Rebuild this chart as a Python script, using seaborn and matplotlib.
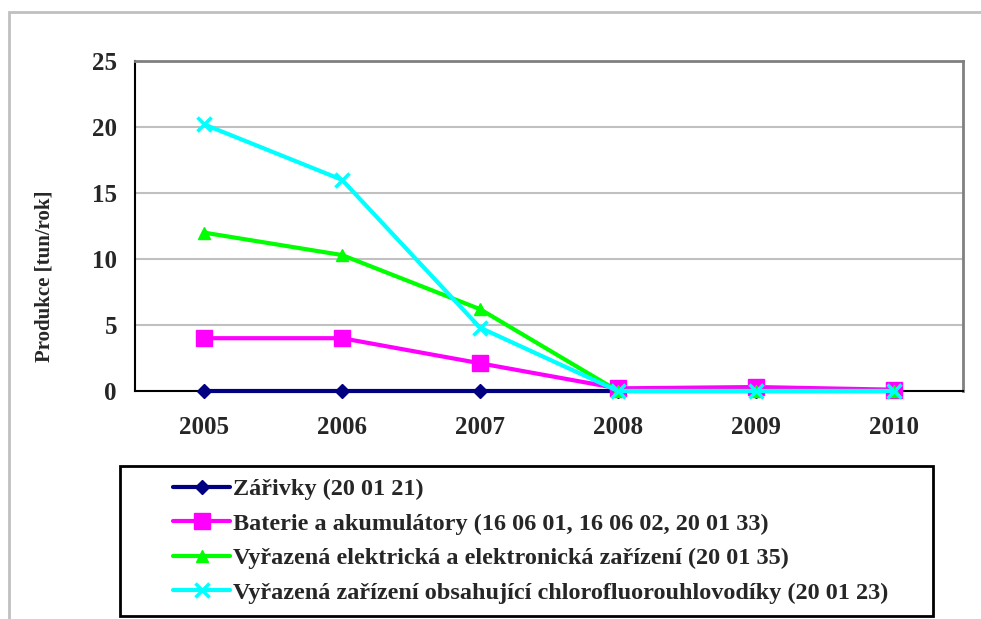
import pandas as pd
import matplotlib
matplotlib.use("Agg")
import matplotlib.pyplot as plt
import seaborn as sns
from matplotlib.patches import Rectangle

# Data
years = ["2005", "2006", "2007", "2008", "2009", "2010"]
zarivky = [0, 0, 0, 0, 0, 0]
baterie = [4.0, 4.0, 2.1, 0.2, 0.3, 0.1]
elektro = [12.0, 10.3, 6.2, 0.0, 0.0, 0.0]
freony = [20.2, 16.0, 4.8, 0.0, 0.0, 0.0]

series_names = [
    "Zářivky (20 01 21)",
    "Baterie a akumulátory (16 06 01, 16 06 02, 20 01 33)",
    "Vyřazená elektrická a elektronická zařízení (20 01 35)",
    "Vyřazená zařízení obsahující chlorofluorouhlovodíky (20 01 23)",
]
series_values = [zarivky, baterie, elektro, freony]
colors = ["#000080", "#FF00FF", "#00FF00", "#00FFFF"]
markers = ["D", "s", "^", "x"]
msizes = [7, 11, 9, 10]

sns.set_style("white")
plt.rcParams["font.family"] = ["Liberation Serif", "DejaVu Serif"]
plt.rcParams["font.weight"] = "bold"

fig = plt.figure(figsize=(9.81, 6.19), dpi=100)
ax = fig.add_axes([135 / 981, 1 - 391 / 619, (963 - 135) / 981, (391 - 61) / 619])

pos = list(range(len(years)))
for name, vals, c, m, ms in zip(series_names, series_values, colors, markers, msizes):
    df = pd.DataFrame({"x": pos, "y": vals})
    sns.lineplot(data=df, x="x", y="y", ax=ax, color=c, marker=m, markersize=ms,
                 linewidth=3, label=name, markeredgecolor=c,
                 markeredgewidth=2.5 if m == "x" else 1, zorder=3, clip_on=False)

ax.set_xlim(-0.5, len(years) - 0.5)
ax.set_ylim(0, 25)
ax.set_yticks([0, 5, 10, 15, 20, 25])
ax.set_xticks([p - 0.5 for p in range(len(years) + 1)])
ax.set_xticklabels([])
ax.set_xticks(pos, minor=True)
ax.set_xticklabels(years, minor=True)
ax.tick_params(axis="x", which="major", direction="out", length=6, width=1.5, color="black")
ax.tick_params(axis="x", which="minor", length=0, pad=18, labelsize=18)
ax.tick_params(axis="y", direction="out", length=7, width=1.5, color="black", labelsize=18, pad=6)
for lab in ax.get_xticklabels(minor=True) + ax.get_yticklabels():
    lab.set_fontweight("bold")

ax.grid(axis="y", color="#c0c0c0", linewidth=1.5)
ax.set_axisbelow(True)
ax.spines["left"].set_color("black")
ax.spines["left"].set_linewidth(1.5)
ax.spines["bottom"].set_color("black")
ax.spines["bottom"].set_linewidth(1.5)
ax.spines["top"].set_color("#808080")
ax.spines["top"].set_linewidth(2)
ax.spines["right"].set_color("#808080")
ax.spines["right"].set_linewidth(2)

ax.set_xlabel("")
ax.set_ylabel("Produkce [tun/rok]", fontsize=15, fontweight="bold")
ax.yaxis.set_label_coords(55 / 981, 1 - 276 / 619, transform=fig.transFigure)

# legend
handles, labels = ax.get_legend_handles_labels()
ax.legend_.remove()
leg = fig.legend(handles, labels, loc="upper left",
                 bbox_to_anchor=(173 / 981, 1 - 478 / 619), frameon=False,
                 prop={"family": "Liberation Serif", "weight": "bold", "size": 17.5},
                 handlelength=2.35, handletextpad=0.12, labelspacing=0.52,
                 borderpad=0, borderaxespad=0)
fig.patches.append(Rectangle((120 / 981, 1 - 616 / 619), (933 - 120) / 981, (616 - 466) / 619,
                             transform=fig.transFigure, fill=False, edgecolor="black",
                             linewidth=2))
# outer chart frame
fig.patches.append(Rectangle((9 / 981, -0.2), 1.2, 0.2 + (619 - 12) / 619,
                             transform=fig.transFigure, fill=False, edgecolor="#c0c0c0",
                             linewidth=2))

fig.savefig("out.png", dpi=100)
